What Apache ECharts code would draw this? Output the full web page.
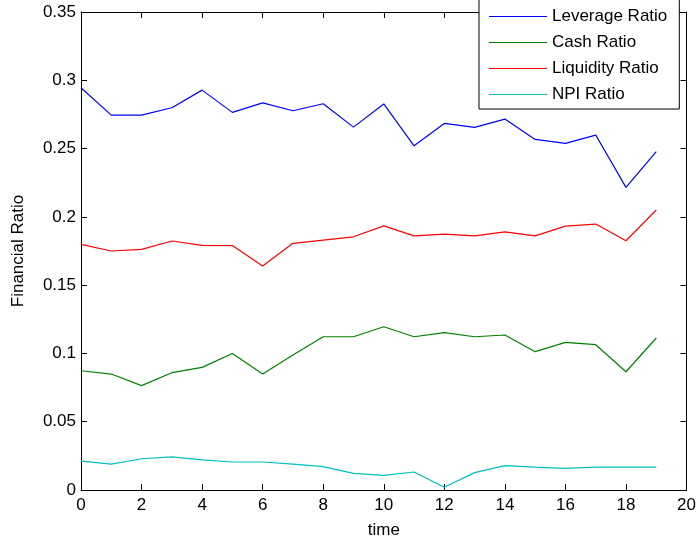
<!DOCTYPE html>
<html>
<head>
<meta charset="utf-8">
<script src="https://cdn.jsdelivr.net/npm/echarts@6/dist/echarts.min.js"></script>
<style>
  html, body { margin: 0; padding: 0; background: #fff; }
  #chart { width: 699px; height: 546px; }
</style>
</head>
<body>
<div id="chart"></div>
<script>
// Time steps and the four financial ratio series
const timeSteps = [0, 1, 2, 3, 4, 5, 6, 7, 8, 9, 10, 11, 12, 13, 14, 15, 16, 17, 18, 19];
const leverageRatio = [0.2945, 0.2745, 0.2745, 0.2799, 0.2928, 0.2765, 0.2835, 0.2777, 0.2828, 0.2657,
                       0.2827, 0.2520, 0.2684, 0.2655, 0.2716, 0.2567, 0.2538, 0.2599, 0.2216, 0.2477];
const cashRatio = [0.0873, 0.0849, 0.0764, 0.0859, 0.0898, 0.1000, 0.0849, 0.0988, 0.1122, 0.1122,
                   0.1195, 0.1122, 0.1152, 0.1122, 0.1135, 0.1013, 0.1081, 0.1064, 0.0866, 0.1113];
const liquidityRatio = [0.1799, 0.1750, 0.1762, 0.1823, 0.1791, 0.1790, 0.1640, 0.1806, 0.1830, 0.1854,
                        0.1934, 0.1861, 0.1874, 0.1861, 0.1890, 0.1861, 0.1932, 0.1947, 0.1825, 0.2050];
const npiRatio = [0.0212, 0.0190, 0.0229, 0.0242, 0.0220, 0.0205, 0.0205, 0.0190, 0.0171, 0.0122,
                  0.0107, 0.0132, 0.0020, 0.0127, 0.0178, 0.0168, 0.0159, 0.0168, 0.0168, 0.0168];

const seriesNames = ['Leverage Ratio', 'Cash Ratio', 'Liquidity Ratio', 'NPI Ratio'];
const seriesColors = ['#0000ff', '#008000', '#ff0000', '#00bfbf'];
const seriesValues = [leverageRatio, cashRatio, liquidityRatio, npiRatio];

const FONT = 'Liberation Sans, Arial, sans-serif';
const FS = 17;

const chart = echarts.init(document.getElementById('chart'), null, { renderer: 'canvas' });

const axisLine = { show: true, onZero: false, lineStyle: { color: '#000', width: 1 } };
const axisTick = { show: true, inside: true, length: 6, lineStyle: { color: '#000', width: 1 } };

chart.setOption({
  animation: false,
  backgroundColor: '#fff',
  grid: { left: 81, right: 11, top: 12, bottom: 56, containLabel: false },
  legend: {
    data: seriesNames,
    orient: 'vertical',
    left: 479,
    top: -1,
    padding: [9, 12, 6, 10],
    icon: 'rect',
    itemWidth: 58,
    itemHeight: 1.2,
    itemGap: 9,
    backgroundColor: '#fff',
    borderColor: '#000',
    borderWidth: 1,
    borderRadius: 0,
    z: 10,
    textStyle: { fontFamily: FONT, fontSize: FS, color: '#000' }
  },
  xAxis: [
    {
      type: 'value', min: 0, max: 20, interval: 2,
      name: 'time', nameLocation: 'middle', nameGap: 32,
      nameTextStyle: { fontFamily: FONT, fontSize: FS, color: '#000' },
      axisLine, axisTick,
      axisLabel: { fontFamily: FONT, fontSize: FS, color: '#000', margin: 7 },
      splitLine: { show: false }
    },
    {
      type: 'value', min: 0, max: 20, interval: 2, position: 'top',
      axisLine, axisTick, axisLabel: { show: false }, splitLine: { show: false }
    }
  ],
  yAxis: [
    {
      type: 'value', min: 0, max: 0.35, interval: 0.05,
      name: 'Financial Ratio', nameLocation: 'middle', nameGap: 54,
      nameTextStyle: { fontFamily: FONT, fontSize: FS, color: '#000' },
      axisLine, axisTick,
      axisLabel: { fontFamily: FONT, fontSize: FS, color: '#000', margin: 5,
                   formatter: v => String(Math.round(v * 100) / 100) },
      splitLine: { show: false }
    },
    {
      type: 'value', min: 0, max: 0.35, interval: 0.05, position: 'right',
      axisLine, axisTick, axisLabel: { show: false }, splitLine: { show: false }
    }
  ],
  series: seriesNames.map((name, k) => ({
    name,
    type: 'line',
    xAxisIndex: 0,
    yAxisIndex: 0,
    data: timeSteps.map((t, i) => [t, seriesValues[k][i]]),
    showSymbol: false,
    symbol: 'none',
    color: seriesColors[k],
    itemStyle: { color: seriesColors[k] },
    lineStyle: { color: seriesColors[k], width: 1.2 }
  }))
});
</script>
</body>
</html>
